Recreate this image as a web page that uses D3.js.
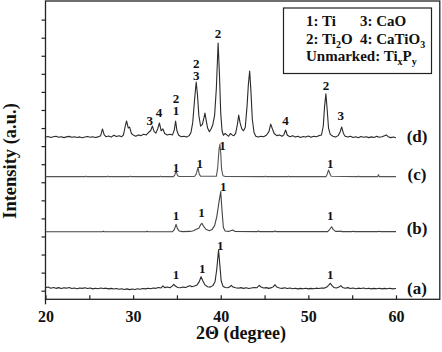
<!DOCTYPE html>
<html lang="en">
<head>
<meta charset="UTF-8">
<title>XRD patterns</title>
<script src="https://d3js.org/d3.v7.min.js"></script>
<style>
    body { margin: 0; background: #fff; }
    svg { display: block; }
    svg text { font-family: "Liberation Serif", "Times New Roman", "DejaVu Serif", serif; font-weight: 700; fill: #111; }
    .trace { fill: none; stroke-linejoin: round; }
</style>
</head>
<body>
<svg id="chart" width="442" height="352"></svg>
<script>
// 2theta (degree) vs stacked intensity (a.u.)
const traceD = [
    [20.0,8.50],[20.3,8.53],[20.6,8.48],[20.9,8.52],[21.2,8.55],[21.5,8.49],[21.8,8.52],[22.1,8.47],[22.4,8.51],[22.7,8.54],
    [23.0,8.49],[23.3,8.52],[23.6,8.48],[23.9,8.51],[24.2,8.46],[24.5,8.50],[24.8,8.53],[25.1,8.49],[25.4,8.52],[25.7,8.48],
    [26.0,8.51],[26.3,8.58],[26.5,8.95],[26.7,8.62],[26.9,8.52],[27.2,8.56],[27.5,8.50],[27.8,8.60],[28.1,8.53],[28.4,8.57],
    [28.7,8.52],[28.9,8.62],[29.1,9.10],[29.25,9.39],[29.45,9.00],[29.6,9.05],[29.8,8.70],[30.0,8.62],[30.3,8.55],[30.6,8.62],
    [30.9,8.58],[31.2,8.66],[31.5,8.62],[31.8,8.78],[32.0,8.85],[32.2,9.11],[32.4,8.80],[32.6,8.72],[32.8,8.95],[33.0,9.28],
    [33.2,8.85],[33.4,8.95],[33.6,8.70],[33.9,8.62],[34.2,8.66],[34.5,8.62],[34.7,8.90],[34.85,9.39],[35.0,8.85],[35.2,8.60],
    [35.5,8.52],[35.8,8.55],[36.1,8.50],[36.4,8.58],[36.6,8.75],[36.8,9.30],[37.0,10.50],[37.2,11.55],[37.35,10.80],[37.5,9.70],
    [37.7,9.10],[37.9,9.20],[38.1,9.60],[38.2,9.83],[38.35,9.40],[38.5,9.00],[38.7,8.80],[38.9,8.95],[39.1,9.20],[39.3,9.70],
    [39.5,11.20],[39.7,13.71],[39.85,12.00],[40.0,9.80],[40.15,8.85],[40.3,8.60],[40.5,8.70],[40.7,8.62],[40.9,8.55],[41.1,8.70],
    [41.3,8.62],[41.5,8.58],[41.7,8.70],[41.9,9.20],[42.05,9.72],[42.2,9.30],[42.4,8.95],[42.6,8.85],[42.8,9.05],[43.0,10.20],
    [43.15,11.40],[43.3,12.16],[43.45,11.00],[43.6,9.50],[43.8,8.75],[44.0,8.55],[44.3,8.50],[44.6,8.55],[44.9,8.52],[45.2,8.60],
    [45.5,8.80],[45.7,9.22],[45.9,8.95],[46.1,8.70],[46.4,8.58],[46.7,8.62],[47.0,8.55],[47.2,8.62],[47.4,8.89],[47.6,8.60],
    [47.9,8.52],[48.2,8.58],[48.5,8.50],[48.8,8.55],[49.1,8.48],[49.4,8.53],[49.7,8.50],[50.0,8.56],[50.3,8.49],[50.6,8.55],
    [50.9,8.52],[51.2,8.58],[51.5,8.62],[51.7,9.10],[51.85,10.20],[52.0,10.89],[52.15,10.00],[52.3,9.00],[52.5,8.65],[52.8,8.55],
    [53.1,8.50],[53.4,8.58],[53.6,8.75],[53.8,9.06],[54.0,8.70],[54.2,8.55],[54.5,8.50],[54.8,8.55],[55.1,8.48],[55.4,8.52],
    [55.7,8.46],[56.0,8.53],[56.3,8.49],[56.6,8.52],[56.9,8.47],[57.2,8.51],[57.5,8.48],[57.8,8.54],[58.1,8.49],[58.4,8.52],
    [58.7,8.58],[58.9,8.62],[59.1,8.52],[59.4,8.47],[59.7,8.50],[60.0,8.46]
];

const traceC = [
    [20.0,6.31],[24.5,6.31],[24.6,6.34],[24.7,6.31],[27.0,6.31],[27.1,6.34],[27.2,6.31],[29.6,6.31],[29.7,6.34],[29.8,6.31],
    [33.0,6.31],[33.1,6.34],[33.2,6.31],[34.6,6.31],[34.75,6.40],[34.9,6.62],[35.05,6.40],[35.2,6.32],[37.0,6.32],[37.2,6.45],
    [37.4,6.81],[37.55,6.45],[37.7,6.33],[39.5,6.33],[39.65,6.80],[39.8,7.80],[39.9,8.10],[40.0,7.60],[40.1,6.70],[40.25,6.36],
    [40.5,6.32],[45.0,6.31],[45.1,6.34],[45.2,6.31],[47.6,6.31],[47.7,6.34],[47.8,6.31],[52.0,6.31],[52.15,6.45],[52.3,6.68],
    [52.45,6.48],[52.6,6.33],[55.6,6.31],[55.7,6.34],[55.8,6.31],[57.9,6.31],[58.0,6.42],[58.1,6.31],[60.0,6.31]
];

const traceB = [
    [20.0,3.26],[26.5,3.26],[26.6,3.29],[26.7,3.26],[31.5,3.26],[31.6,3.29],[31.7,3.26],[34.5,3.27],[34.7,3.38],[34.9,3.67],
    [35.05,3.45],[35.25,3.30],[35.6,3.27],[36.5,3.28],[36.9,3.32],[37.2,3.40],[37.5,3.45],[37.7,3.65],[37.85,3.73],[38.0,3.60],
    [38.3,3.40],[38.7,3.32],[39.0,3.38],[39.3,3.60],[39.55,4.10],[39.8,4.90],[40.0,5.48],[40.15,4.40],[40.3,3.50],[40.5,3.30],
    [40.9,3.28],[41.2,3.33],[41.4,3.36],[41.6,3.28],[44.2,3.27],[44.3,3.31],[44.4,3.27],[46.1,3.27],[46.2,3.31],[46.3,3.27],
    [52.2,3.27],[52.45,3.40],[52.65,3.54],[52.85,3.38],[53.1,3.28],[53.6,3.28],[53.7,3.31],[53.8,3.27],[55.0,3.27],[55.1,3.29],
    [55.2,3.27],[58.0,3.27],[58.1,3.29],[58.2,3.27],[60.0,3.27]
];

const traceA = [
    [20.0,0.16],[20.3,0.20],[20.6,0.14],[20.9,0.18],[21.2,0.13],[21.5,0.17],[21.8,0.12],[22.1,0.16],[22.4,0.14],[22.7,0.18],
    [23.0,0.12],[23.3,0.15],[23.6,0.11],[23.9,0.15],[24.2,0.13],[24.5,0.16],[24.8,0.12],[25.1,0.15],[25.4,0.10],[25.7,0.14],
    [26.0,0.11],[26.3,0.15],[26.6,0.12],[26.9,0.14],[27.2,0.10],[27.5,0.13],[27.8,0.09],[28.1,0.12],[28.4,0.08],[28.7,0.11],
    [29.0,0.07],[29.3,0.10],[29.6,0.06],[29.9,0.09],[30.2,0.07],[30.5,0.11],[30.8,0.08],[31.1,0.12],[31.4,0.10],[31.7,0.14],
    [32.0,0.11],[32.3,0.15],[32.6,0.13],[32.9,0.18],[33.2,0.15],[33.4,0.27],[33.6,0.17],[33.9,0.20],[34.2,0.16],[34.45,0.25],
    [34.65,0.35],[34.85,0.24],[35.1,0.18],[35.4,0.16],[35.7,0.20],[36.0,0.18],[36.3,0.24],[36.5,0.28],[36.7,0.22],[37.0,0.26],
    [37.3,0.32],[37.55,0.50],[37.75,0.77],[37.95,0.55],[38.2,0.32],[38.5,0.22],[38.8,0.20],[39.1,0.28],[39.35,0.50],[39.55,1.20],
    [39.75,2.25],[39.9,1.40],[40.05,0.55],[40.25,0.25],[40.5,0.18],[40.8,0.16],[41.0,0.20],[41.2,0.30],[41.4,0.20],[41.7,0.16],
    [42.0,0.14],[42.3,0.17],[42.6,0.13],[42.9,0.16],[43.2,0.12],[43.5,0.15],[43.8,0.18],[44.1,0.16],[44.4,0.30],[44.6,0.20],
    [44.9,0.15],[45.2,0.17],[45.5,0.13],[45.8,0.17],[46.0,0.22],[46.2,0.33],[46.4,0.20],[46.7,0.15],[47.0,0.13],[47.3,0.16],
    [47.6,0.12],[47.9,0.15],[48.2,0.11],[48.5,0.14],[48.8,0.10],[49.1,0.13],[49.4,0.11],[49.7,0.14],[50.0,0.10],[50.3,0.13],
    [50.6,0.11],[50.9,0.14],[51.2,0.12],[51.5,0.15],[51.8,0.14],[52.1,0.20],[52.3,0.30],[52.5,0.41],[52.7,0.28],[52.9,0.18],
    [53.2,0.15],[53.5,0.20],[53.7,0.28],[53.9,0.18],[54.2,0.14],[54.5,0.17],[54.8,0.12],[55.1,0.15],[55.4,0.11],[55.7,0.14],
    [56.0,0.12],[56.3,0.15],[56.6,0.11],[56.9,0.14],[57.2,0.10],[57.5,0.13],[57.8,0.11],[58.1,0.14],[58.4,0.10],[58.7,0.13],
    [59.0,0.11],[59.3,0.14],[59.6,0.10],[60.0,0.12]
];

const seriesNames = ["(a)", "(b)", "(c)", "(d)"];
const seriesLevels = [0.15, 3.47, 6.46, 8.56];   // where each name sits, in a.u.

// phase markers: [2theta, a.u. of label bottom, text]
const peakMarks = [
    [39.7,13.98,"2"], [37.2,12.32,"2"], [37.2,11.66,"3"], [34.9,10.39,"2"], [34.9,9.73,"1"],
    [31.9,9.17,"3"], [32.95,9.61,"4"], [47.4,9.17,"4"], [52.0,11.11,"2"], [53.7,9.45,"3"],
    [34.9,6.57,"1"], [37.6,6.79,"1"], [40.2,7.79,"1"], [52.5,6.79,"1"],
    [34.9,3.91,"1"], [37.8,4.08,"1"], [40.3,5.52,"1"], [52.5,3.91,"1"],
    [34.9,0.65,"1"], [37.9,0.98,"1"], [39.95,2.25,"1"], [52.5,0.65,"1"]
];

const xTicks = [20, 25, 30, 35, 40, 45, 50, 55, 60];
const xLabels = [20, 30, 40, 50, 60];
const yTicks = d3.range(0, 16);

const svg = d3.select("#chart");
const serif = '"Liberation Serif", "Times New Roman", "DejaVu Serif", serif';

const x = d3.scaleLinear().domain([20, 65]).range([45.5, 439.8]);
const y = d3.scaleLinear().domain([-0.476, 16.03]).range([299.3, 1]);

// frame
svg.append("rect")
    .attr("x", x(20)).attr("y", y(16.03))
    .attr("width", x(65) - x(20)).attr("height", y(-0.476) - y(16.03))
    .attr("fill", "none").attr("stroke", "#222").attr("stroke-width", 1.3);

// left axis line runs a bit below the x axis
svg.append("line")
    .attr("x1", x(20)).attr("x2", x(20))
    .attr("y1", y(-0.476)).attr("y2", y(-0.476) + 5)
    .attr("stroke", "#222").attr("stroke-width", 1.3);

// x axis, ticks pointing in
const xAxis = svg.append("g")
    .attr("transform", `translate(0,${y(-0.476)})`)
    .call(d3.axisBottom(x).tickValues(xTicks).tickSize(-4).tickPadding(11)
        .tickFormat(d => xLabels.includes(d) ? d : ""));
xAxis.select(".domain").remove();
xAxis.selectAll("line").attr("stroke", "#222").attr("stroke-width", 1.2);
xAxis.selectAll("text")
    .style("font-family", serif).style("font-weight", 700).style("font-size", "16px")
    .attr("fill", "#111");

// y axis, short outward ticks, no labels
const yAxis = svg.append("g")
    .attr("transform", `translate(${x(20)},0)`)
    .call(d3.axisLeft(y).tickValues(yTicks).tickSize(4).tickFormat(""));
yAxis.select(".domain").remove();
yAxis.selectAll("line").attr("stroke", "#222").attr("stroke-width", 1.2);

// traces
const line = d3.line().x(d => x(d[0])).y(d => y(d[1]));
const traces = [
    { data: traceA, color: "#2a2a2a" },
    { data: traceB, color: "#444" },
    { data: traceC, color: "#555" },
    { data: traceD, color: "#2a2a2a" }
];
svg.selectAll(".trace")
    .data(traces)
    .enter().append("path")
    .attr("class", "trace")
    .attr("d", d => line(d.data))
    .attr("stroke", d => d.color)
    .attr("stroke-width", 1.1);

// peak markers
svg.selectAll(".mark")
    .data(peakMarks)
    .enter().append("text")
    .attr("class", "mark")
    .attr("x", d => x(d[0]))
    .attr("y", d => y(d[1]))
    .attr("text-anchor", "middle")
    .style("font-size", "13px")
    .text(d => d[2]);

// series names
svg.selectAll(".sname")
    .data(seriesNames)
    .enter().append("text")
    .attr("class", "sname")
    .attr("x", x(62.4))
    .attr("y", (d, i) => y(seriesLevels[i]))
    .attr("dy", "0.35em")
    .attr("text-anchor", "middle")
    .style("font-size", "17px")
    .text(d => d);

// axis titles
svg.append("text")
    .attr("x", 241).attr("y", 339)
    .attr("text-anchor", "middle")
    .style("font-size", "18px")
    .text("2\u0398 (degree)");

svg.append("text")
    .attr("transform", "translate(15.5,161) rotate(-90)")
    .attr("text-anchor", "middle")
    .style("font-size", "18.5px")
    .text("Intensity (a.u.)");

// legend
const legend = svg.append("g");
legend.append("rect")
    .attr("x", 283.5).attr("y", 8).attr("width", 148).attr("height", 65.5)
    .attr("fill", "#fff").attr("stroke", "#222").attr("stroke-width", 1.2);

function addEntry(px, py, parts) {
    const t = legend.append("text").attr("x", px).attr("y", py).style("font-size", "15px");
    parts.forEach(p => {
        const s = t.append("tspan").text(p[0]);
        if (p[1]) s.style("font-size", "10px").attr("dy", 4);
        else if (p[2]) s.attr("dy", -4);
    });
}
addEntry(306, 26, [["1: Ti"]]);
addEntry(360, 26, [["3: CaO"]]);
addEntry(306, 43.5, [["2: Ti"], ["2", true], ["O", false, true]]);
addEntry(360, 43.5, [["4: CaTiO"], ["3", true]]);
addEntry(306, 61, [["Unmarked: Ti"], ["x", true], ["P", false, true], ["y", true]]);
</script>
</body>
</html>
